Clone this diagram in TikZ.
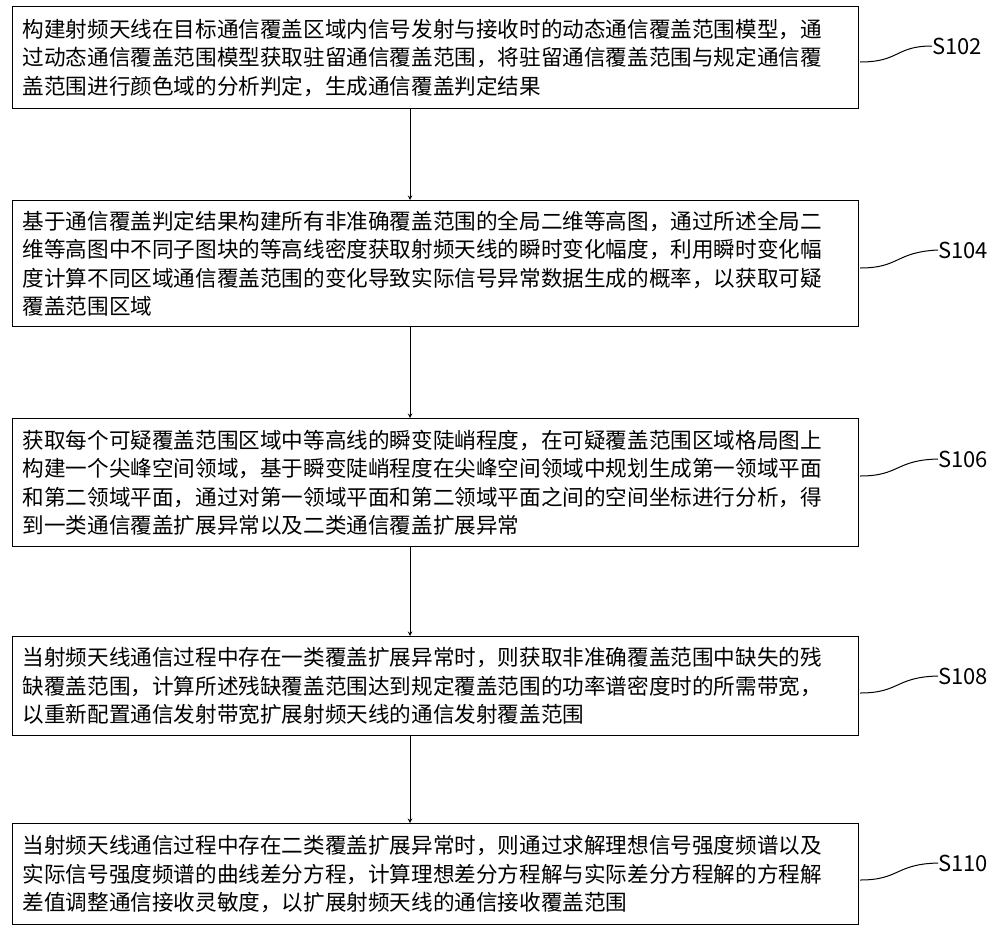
\documentclass[tikz,border=0pt]{standalone}
\usepackage{fontspec}
\setmainfont{Noto Sans CJK SC}
\begin{document}
\begin{tikzpicture}[x=1pt,y=-1pt,
  box/.style={draw,line width=1.3pt,minimum width=846pt,align=left,anchor=north west,
    text width=826pt,inner xsep=10pt,font=\fontsize{21.6}{28.5}\selectfont},
  arr/.style={-stealth,line width=1pt},
  lab/.style={font=\fontsize{22}{26}\selectfont,anchor=west,inner sep=0pt},
  wave/.style={line width=1pt}]
\useasboundingbox (0,0) rectangle (1000,932);
\node[box,minimum height=102pt] (b1) at (12,6) {构建射频天线在目标通信覆盖区域内信号发射与接收时的动态通信覆盖范围模型，通\\过动态通信覆盖范围模型获取驻留通信覆盖范围，将驻留通信覆盖范围与规定通信覆\\盖范围进行颜色域的分析判定，生成通信覆盖判定结果};
\node[box,minimum height=126pt] (b2) at (12,200) {基于通信覆盖判定结果构建所有非准确覆盖范围的全局二维等高图，通过所述全局二\\维等高图中不同子图块的等高线密度获取射频天线的瞬时变化幅度，利用瞬时变化幅\\度计算不同区域通信覆盖范围的变化导致实际信号异常数据生成的概率，以获取可疑\\覆盖范围区域};
\node[box,minimum height=128pt] (b3) at (12,418) {获取每个可疑覆盖范围区域中等高线的瞬变陡峭程度，在可疑覆盖范围区域格局图上\\构建一个尖峰空间领域，基于瞬变陡峭程度在尖峰空间领域中规划生成第一领域平面\\和第二领域平面，通过对第一领域平面和第二领域平面之间的空间坐标进行分析，得\\到一类通信覆盖扩展异常以及二类通信覆盖扩展异常};
\node[box,minimum height=99pt] (b4) at (12,636) {当射频天线通信过程中存在一类覆盖扩展异常时，则获取非准确覆盖范围中缺失的残\\缺覆盖范围，计算所述残缺覆盖范围达到规定覆盖范围的功率谱密度时的所需带宽，\\以重新配置通信发射带宽扩展射频天线的通信发射覆盖范围};
\node[box,minimum height=101pt] (b5) at (12,823) {当射频天线通信过程中存在二类覆盖扩展异常时，则通过求解理想信号强度频谱以及\\实际信号强度频谱的曲线差分方程，计算理想差分方程解与实际差分方程解的方程解\\差值调整通信接收灵敏度，以扩展射频天线的通信接收覆盖范围};
\foreach \a/\b in {b1/b2,b2/b3,b3/b4,b4/b5}
  \draw[arr] (\b.north -| 410,0) ++(0,0) coordinate (t\b) (\a.south -| 410,0) coordinate (s\a) (s\a) -- (t\b);
\node[lab] (l1) at (932,46) {S102};
\node[lab] (l2) at (938,250) {S104};
\node[lab] (l3) at (938,459) {S106};
\node[lab] (l4) at (938,676) {S108};
\node[lab] (l5) at (938,863) {S110};
\foreach \i/\y in {1/62,2/268,3/476,4/693,5/880}{
  \coordinate (c\i) at (860,\y);
  \draw[wave] (c\i) .. controls (900,\y) and (895,\y-16) .. (l\i.west);
}
\end{tikzpicture}
\end{document}
